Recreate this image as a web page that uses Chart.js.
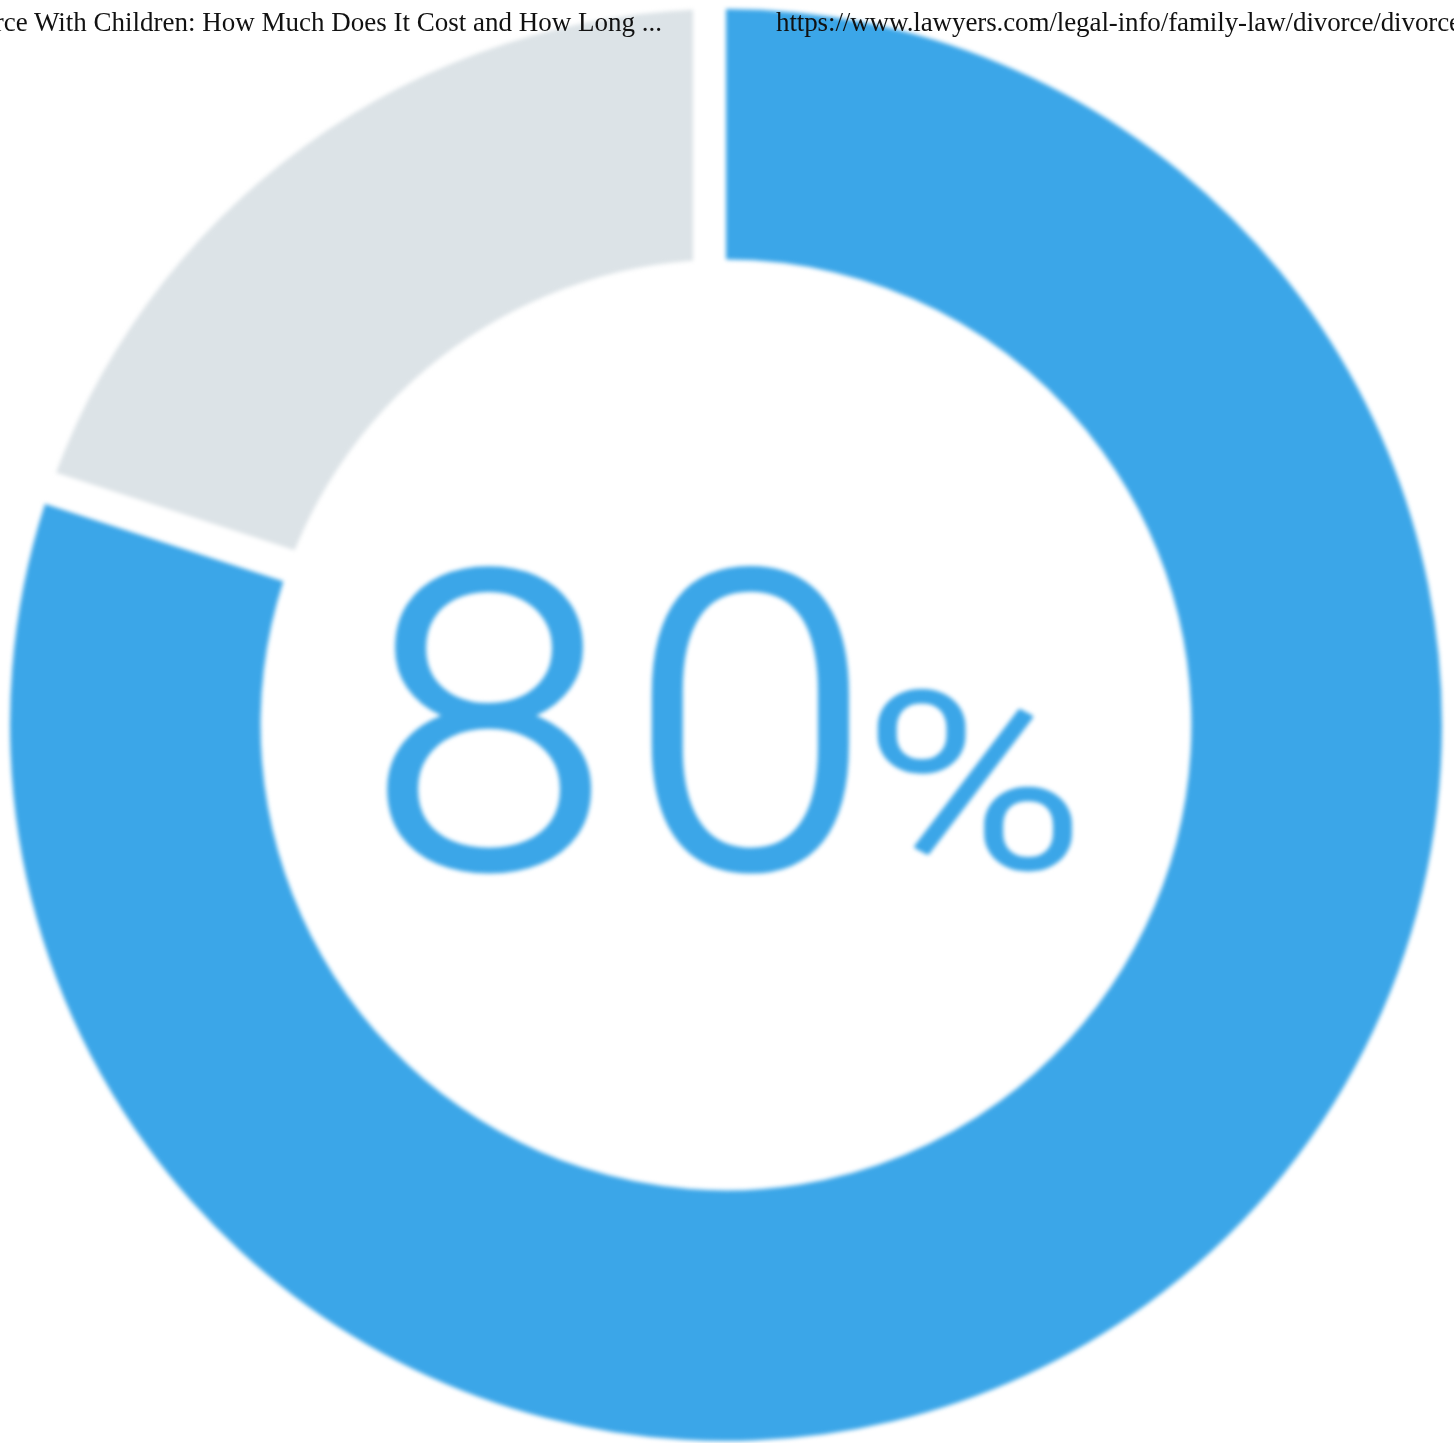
<!DOCTYPE html>
<html>
<head>
<meta charset="utf-8">
<script src="https://cdn.jsdelivr.net/npm/chart.js@4.4.1/dist/chart.umd.min.js"></script>
<style>
  html, body { margin: 0; padding: 0; background: #fff; overflow: hidden; }
  body { width: 1454px; height: 1443px; position: relative; }
  #wrap { position: absolute; left: 10px; top: 9px; width: 1432px; height: 1432px; z-index: 1; }
  #wrap canvas { filter: blur(2px); }
  .cap { position: absolute; top: 7px; height: 34px; overflow: hidden; white-space: nowrap; z-index: 2;
         font-family: "Liberation Serif", "DejaVu Serif", serif; font-size: 27px; color: #111; line-height: 30px; }
  .cap span { position: absolute; top: 0; }
  #capL { left: 0; width: 662px; }
  #capL span { right: 0; }
  #capR { left: 776px; right: 0; letter-spacing: -0.1px; }
  #capR span { left: 0; }
</style>
</head>
<body>
<div id="wrap"><canvas id="myChart"></canvas></div>
<div id="capL" class="cap"><span>Divorce With Children: How Much Does It Cost and How Long ...</span></div>
<div id="capR" class="cap"><span>https://www.lawyers.com/legal-info/family-law/divorce/divorce-with-children.html</span></div>
<script>
var categories = ['With children', 'Other'];
var values = [80, 20];
var colors = ['rgb(59,166,232)', 'rgb(220,227,231)'];

// white parallel gaps cut into the grey slice, along both of its edges
var gapPlugin = {
  id: 'gaps',
  afterDatasetsDraw: function(chart) {
    var arc = chart.getDatasetMeta(0).data[1];
    var c = chart.ctx;
    var g = 33;
    var r0 = arc.innerRadius - 3, r1 = arc.outerRadius + 3;
    c.save();
    c.fillStyle = '#ffffff';
    [[arc.startAngle, 1], [arc.endAngle, -1]].forEach(function(e) {
      var a = e[0], s = e[1];
      var ux = Math.cos(a), uy = Math.sin(a);
      var nx = -Math.sin(a) * s, ny = Math.cos(a) * s;
      c.beginPath();
      c.moveTo(arc.x + ux * r0, arc.y + uy * r0);
      c.lineTo(arc.x + ux * r1, arc.y + uy * r1);
      c.lineTo(arc.x + ux * r1 + nx * g, arc.y + uy * r1 + ny * g);
      c.lineTo(arc.x + ux * r0 + nx * g, arc.y + uy * r0 + ny * g);
      c.closePath();
      c.fill();
    });
    c.restore();
  }
};

// big "80%" label in the hole
var centerText = {
  id: 'centerText',
  afterDraw: function(chart) {
    var arc = chart.getDatasetMeta(0).data[0];
    var c = chart.ctx;
    var big = '300 414px Roboto, "Open Sans", sans-serif';
    var small = '300 244px Roboto, "Open Sans", sans-serif';
    var parts = String(values[0]).split('').map(function(ch) {
      return { t: ch, font: big, sx: 1.06, gap: 56, lw: 5 };
    });
    parts.push({ t: '%', font: small, sx: 1.22, gap: 32, lw: 4 });
    c.save();
    c.fillStyle = colors[0];
    c.strokeStyle = colors[0];
    c.lineJoin = 'round';
    c.textBaseline = 'alphabetic';
    var total = 0;
    parts.forEach(function(p, i) {
      c.font = p.font;
      var m = c.measureText(p.t);
      p.l = m.actualBoundingBoxLeft;
      p.w = (m.actualBoundingBoxLeft + m.actualBoundingBoxRight) * p.sx;
      total += p.w + (i > 0 ? p.gap : 0);
    });
    var x = arc.x + 3 - total / 2;
    var y = arc.y + 142;
    parts.forEach(function(p, i) {
      if (i > 0) x += p.gap;
      c.font = p.font;
      c.save();
      c.translate(x, y);
      c.scale(p.sx, 1);
      c.lineWidth = p.lw;
      c.fillText(p.t, p.l, 0);
      c.strokeText(p.t, p.l, 0);
      c.restore();
      x += p.w;
    });
    c.restore();
  }
};

window.onload = function() {
  var ctx = document.getElementById('myChart');
  new Chart(ctx, {
    type: 'doughnut',
    data: {
      labels: categories,
      datasets: [{
        data: values,
        backgroundColor: colors,
        borderWidth: 0,
        hoverOffset: 0
      }]
    },
    options: {
      responsive: true,
      maintainAspectRatio: false,
      animation: false,
      cutout: '65%',
      layout: { padding: 0 },
      plugins: {
        legend: { display: false },
        tooltip: { enabled: false },
        title: { display: false }
      },
      events: []
    },
    plugins: [gapPlugin, centerText]
  });
};
</script>
</body>
</html>
